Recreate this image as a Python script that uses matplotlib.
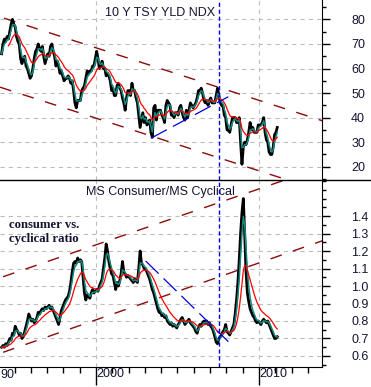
import numpy as np
import pandas as pd
import matplotlib
matplotlib.use("Agg")
import matplotlib.pyplot as plt
from matplotlib.lines import Line2D
from matplotlib.ticker import FixedLocator, MultipleLocator
import matplotlib.transforms as mtransforms

plt.rcParams['font.family'] = ['Liberation Sans', 'DejaVu Sans']
plt.rcParams['lines.scale_dashes'] = False

# monthly closes, Mar 1994 .. Feb 2011
tsy_yld = [66, 70, 72, 71, 73, 72, 75, 78, 80, 78,
           77, 73, 71, 70, 64, 62, 64, 65, 61, 60, 58, 56,
           57, 60, 64, 67, 68, 70, 68, 67, 69, 65, 62, 64,
           66, 65, 69, 70, 67, 65, 61, 63, 61, 58, 59, 57,
           55, 56, 56, 57, 56, 54, 55, 51, 46, 44, 47, 47,
           47, 51, 52, 53, 56, 59, 58, 59, 59, 61, 61, 64,
           67, 64, 60, 61, 63, 60, 60, 57, 58, 57, 55, 51,
           52, 49, 49, 53, 54, 52, 51, 48, 46, 43, 48, 51,
           51, 49, 54, 51, 51, 48, 46, 41, 36, 39, 42, 38,
           40, 37, 38, 39, 34, 32, 44, 45, 39, 43, 43, 43,
           41, 40, 38, 45, 47, 46, 45, 41, 41, 40, 42, 42,
           41, 44, 45, 42, 40, 39, 43, 40, 43, 46, 45, 44,
           45, 46, 48, 51, 51, 52, 50, 47, 46, 47, 45, 47,
           48, 46, 46, 46, 49, 52, 49, 46, 45, 45, 41, 40,
           35, 35, 34, 37, 40, 40, 40, 38, 38, 40, 30, 21,
           28, 30, 29, 31, 34, 38, 35, 36, 34, 34, 34, 37,
           37, 37, 38, 40, 34, 31, 30, 26, 25, 25, 28, 33,
           34, 36]

cons_cycl = [.65, .66, .65, .67, .66, .68, .70, .69, .73, .72,
             .77, .75, .74, .72, .73, .70, .71, .74, .77, .80, .84, .82,
             .80, .81, .79, .80, .82, .85, .84, .86, .87, .86, .88, .87,
             .88, .89, .87, .88, .86, .84, .82, .80, .78, .82, .86, .88,
             .90, .92, .93, .94, .97, 1.02, 1.08, 1.13, 1.14, 1.13, 1.16, 1.14,
             1.15, 1.14, 1.05, .96, .92, .95, .94, .93, .96, .98, .96, .97,
             .98, .97, 1.00, 1.02, 1.04, 1.10, 1.16, 1.24, 1.20, 1.14, 1.10, 1.07,
             1.06, 1.02, .98, 1.02, 1.00, 1.03, 1.07, 1.14, 1.08, 1.07, 1.05, 1.06,
             1.05, 1.04, 1.03, 1.02, 1.04, 1.03, 1.02, 1.10, 1.20, 1.13, 1.12, 1.10,
             1.10, 1.08, 1.06, 1.04, 1.01, .98, .96, .93, .90, .87, .85, .85,
             .83, .84, .82, .83, .80, .79, .78, .79, .77, .78, .77, .76,
             .78, .79, .81, .82, .80, .78, .79, .80, .81, .79, .78, .77,
             .76, .74, .73, .76, .78, .77, .79, .80, .79, .80, .78, .79,
             .77, .76, .74, .71, .68, .67, .70, .71, .72, .74, .75, .78,
             .74, .73, .72, .74, .76, .78, .84, .92, 1.02, 1.15, 1.30, 1.42,
             1.50, 1.30, 1.08, .96, .91, .87, .85, .83, .82, .80, .79, .80,
             .79, .78, .80, .81, .80, .79, .80, .78, .76, .74, .72, .70,
             .70, .71]

dates = 1994 + 2 / 12 + np.arange(len(tsy_yld)) / 12 + 1 / 24

# channel and trend lines (x = year, y = value)
top_chan_hi = ([1994.36, 2014.0], [80.5, 38.5])
top_chan_lo = ([1994.11, 2014.0], [52.4, 9.8])
bot_chan_hi = ([1994.3, 2014.0], [1.053, 1.683])
bot_chan_lo = ([1994.3, 2014.0], [0.621, 1.262])
top_trend = ([2003.37, 2008.12], [31.6, 48.5])
bot_trend = ([2003.05, 2008.12], [1.143, 0.682])
marker_date = 2007.55

TXT = '#141432'
TEAL = '#138a80'
CHAN = '#8b0a0a'
BLUE = '#0000e0'
W, H = 371, 387

fig = plt.figure(figsize=(W / 100, H / 100), dpi=100)
ax1 = fig.add_axes([0, 1 - 180 / H, 322 / W, 180 / H])
ax2 = fig.add_axes([0, 20 / H, 322 / W, 187 / H], sharex=ax1)


def draw(ax, vals, red_min):
    s = pd.Series(vals, index=dates, dtype=float)
    fast = s.ewm(span=3, adjust=False).mean()
    slow = s.ewm(span=12, adjust=False, min_periods=red_min).mean()
    ax.plot(dates, s, color='black', lw=2.0, zorder=3)
    ax.plot(dates, fast, color=TEAL, lw=1.1, zorder=4)
    ax.plot(dates, slow, color='red', lw=0.9, zorder=5)


draw(ax1, tsy_yld, 6)
draw(ax2, cons_cycl, 1)

for ax, hi, lo, tr in [(ax1, top_chan_hi, top_chan_lo, top_trend),
                       (ax2, bot_chan_hi, bot_chan_lo, bot_trend)]:
    ax.plot(*hi, color=CHAN, lw=1.0, ls=(0, (8.5, 8.5)), zorder=2)
    ax.plot(*lo, color=CHAN, lw=1.0, ls=(0, (8.5, 8.5)), zorder=2)
    ax.plot(*tr, color=BLUE, lw=0.9, ls=(0, (13, 5)), zorder=6)
    ax.axvline(marker_date, color=BLUE, lw=1.0, ls=(0, (3, 2)), zorder=6)
    ax.grid(True, which='major', color='#bdbdbd', ls=(0, (3, 3)), lw=0.8, zorder=0)
    ax.set_axisbelow(True)
    ax.yaxis.tick_right()
    ax.tick_params(axis='y', which='major', length=6, width=1, pad=15,
                   labelsize=9, labelcolor=TXT)
    ax.tick_params(axis='y', which='minor', length=3, width=1)
    ax.spines['left'].set_visible(False)
    ax.spines['top'].set_visible(False)

ax1.set_xlim(1994.11, 2013.87)
ax1.set_ylim(14.6, 87.9)
ax2.set_ylim(0.537, 1.606)

ax1.yaxis.set_major_locator(FixedLocator([20, 30, 40, 50, 60, 70, 80]))
ax1.yaxis.set_minor_locator(MultipleLocator(5))
ax2.yaxis.set_major_locator(FixedLocator([0.6, 0.7, 0.8, 0.9, 1.0, 1.1, 1.2, 1.3, 1.4]))
ax2.yaxis.set_minor_locator(MultipleLocator(0.05))
ax2.yaxis.set_major_formatter(lambda v, p: f'{v:.1f}')

ax2.xaxis.set_major_locator(FixedLocator([2000, 2010]))
ax2.xaxis.set_minor_locator(MultipleLocator(1))
ax2.xaxis.set_major_formatter(lambda v, p: f'{v:.0f}')
ax1.spines['bottom'].set_visible(False)
ax1.tick_params(axis='x', which='both', bottom=False, labelbottom=False)
ax2.tick_params(axis='x', which='major', length=13, width=1, pad=-12,
                labelsize=9, labelcolor=TXT)
ax2.tick_params(axis='x', which='minor', length=4.3, width=1)
for lbl in ax2.get_xticklabels():
    lbl.set_horizontalalignment('left')

# decade label at the left edge, only its last two digits fit
ax2.text(0.5 / 322, -2 / 187, '90', ha='left', va='top', fontsize=9,
         color=TXT, transform=ax2.transAxes)

fig.add_artist(Line2D([0, 1], [1 - 180 / H] * 2, transform=fig.transFigure,
                      color='black', lw=1))

ax1.text(0.497, 1 - 12.7 / 180, '10 Y TSY YLD NDX', ha='center', va='center',
         fontsize=9, color=TXT, transform=ax1.transAxes)
ax2.text(0.497, 1 - 11.7 / 187, 'MS Consumer/MS Cyclical', ha='center', va='center',
         fontsize=9, color=TXT, transform=ax2.transAxes)
ax2.text(9 / 322, 1 - 52 / 187, 'consumer vs.\ncyclical ratio', ha='left', va='center',
         fontsize=9.2, fontweight='bold', family='Liberation Serif', linespacing=1.25,
         color=TXT, transform=ax2.transAxes)

fig.savefig('out.png', dpi=100)
